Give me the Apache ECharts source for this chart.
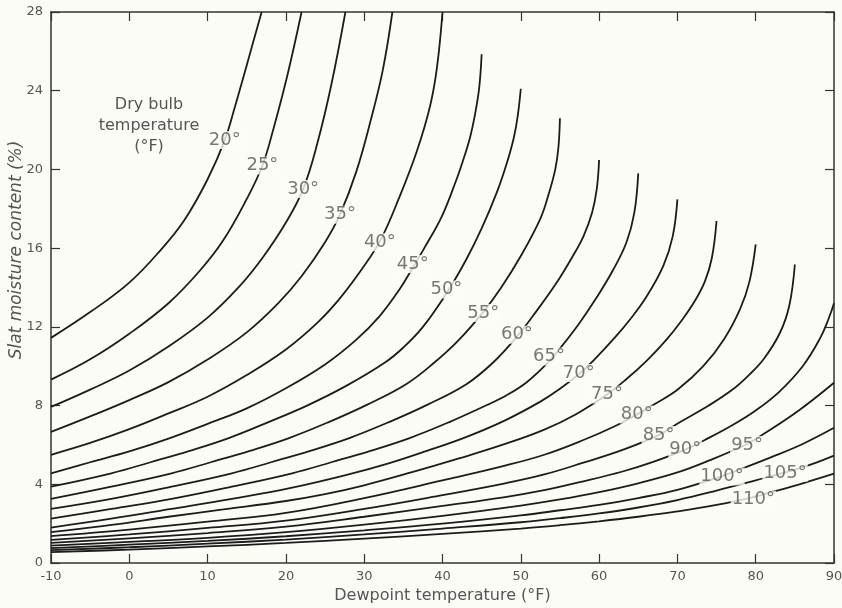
<!DOCTYPE html>
<html><head><meta charset="utf-8">
<script src="https://cdn.jsdelivr.net/npm/echarts/dist/echarts.min.js"></script>
<style>html,body{margin:0;padding:0;background:#fcfcf7}#c{width:842px;height:608px}</style>
</head><body><div id="c"></div>
<script>
// Dry bulb temperatures (°F), one curve each
const dryBulb = [20,25,30,35,40,45,50,55,60,65,70,75,80,85,90,95,100,105,110];

// Curves: [dewpoint °F, slat moisture content %]
const c20 = [[-10,11.44],[-5,12.75],[0,14.25],[4,15.9],[7,17.4],[10,19.5],[12.2,21.5],[13.5,23.2],[15,25.3],[16.9,28]];
const c25 = [[-10,9.32],[-5,10.35],[0,11.65],[5,13.2],[9,14.85],[12,16.4],[15,18.5],[17,20.2],[18.5,22.2],[20.2,24.8],[22,28]];
const c30 = [[-10,7.93],[-5,8.81],[0,9.78],[5,11.0],[10,12.47],[14,14.03],[17,15.5],[20,17.3],[22.2,19.0],[24,21.3],[25.8,24.3],[27.6,28]];
const c35 = [[-10,6.66],[-5,7.45],[0,8.28],[5,9.19],[10,10.34],[15,11.72],[19,13.19],[22,14.57],[25,16.3],[26.9,17.7],[29,19.9],[30.9,22.6],[32.4,25.1],[33.6,28]];
const c40 = [[-10,5.5],[-5,6.1],[0,6.8],[5,7.6],[10,8.45],[15,9.55],[20,10.85],[24,12.2],[27,13.5],[30,15.1],[32.2,16.5],[34.4,18.5],[36.7,20.9],[38.4,23.2],[39.3,25.2],[40,28]];
const c45 = [[-10,4.56],[-5,5.12],[0,5.67],[5,6.32],[10,7.07],[15,7.86],[20,8.88],[25,10.09],[29,11.35],[32,12.56],[34.5,13.9],[36.2,15.0],[37.6,15.95],[39.9,17.6],[41.8,19.5],[42.5,20.3],[43.5,21.6],[44.2,22.9],[44.7,24.2],[45,25.85]];
const c50 = [[-10,3.88],[-2.3,4.56],[2.7,5.12],[7.7,5.7],[12.7,6.35],[17.7,7.15],[22.7,8.0],[27.7,9.0],[32.7,10.2],[35,10.95],[37.5,12.0],[40.5,13.7],[43,15.4],[45,17.0],[47,18.9],[48.2,20.3],[49.1,21.6],[49.6,22.7],[50,24.1]];
const c55 = [[-10,3.26],[-2.3,3.88],[5.4,4.56],[10.4,5.12],[15.4,5.7],[20.4,6.35],[25.4,7.15],[30.4,8.05],[35.4,9.1],[39,10.2],[42,11.3],[45.2,12.75],[47.5,14.0],[50,15.6],[52.5,17.5],[53.6,18.8],[54.4,20.0],[54.8,21.1],[55,22.6]];
const c60 = [[-10,2.75],[-2.3,3.26],[5.4,3.88],[13.1,4.56],[18.1,5.12],[23.1,5.7],[28.1,6.35],[33.1,7.15],[38.1,8.05],[43.1,9.1],[46.5,10.2],[49.5,11.5],[52,12.8],[54.5,14.2],[56.5,15.5],[58,16.6],[59.1,17.8],[59.7,19.0],[60,20.48]];
const c65 = [[-10,2.25],[-2.3,2.75],[5.4,3.26],[13.1,3.88],[20.8,4.56],[25.8,5.12],[30.8,5.7],[35.8,6.35],[40.8,7.15],[45.8,8.05],[48.3,8.55],[50.8,9.2],[53.5,10.2],[55,10.9],[57.5,12.2],[59.7,13.5],[61.8,14.9],[63.5,16.3],[64.5,17.8],[65,19.8]];
const c70 = [[-10,1.8],[-2.3,2.25],[5.4,2.75],[13.1,3.26],[20.5,3.8],[28,4.5],[33,5.05],[38,5.7],[43,6.4],[48,7.25],[52.5,8.2],[55,8.85],[57.4,9.6],[59.3,10.3],[62,11.45],[64,12.4],[66,13.5],[68.2,15.1],[69.4,16.6],[70,18.48]];
const c75 = [[-10,1.57],[-2,1.95],[5,2.35],[12,2.72],[20,3.15],[25,3.5],[30,3.95],[36,4.6],[42,5.3],[48,6.05],[53,6.78],[57,7.55],[61,8.56],[63.5,9.35],[66,10.25],[68.5,11.3],[70.5,12.3],[72.2,13.3],[73.5,14.3],[74.4,15.5],[75,17.38]];
const c80 = [[-10,1.37],[0,1.7],[10,2.1],[20,2.55],[30,3.3],[40,4.2],[48,4.95],[53,5.5],[58,6.25],[62,6.95],[64.8,7.54],[67,8.05],[70,8.8],[73.3,10.0],[76,11.4],[78,12.9],[79.2,14.3],[80,16.19]];
const c85 = [[-10,1.18],[0,1.45],[10,1.78],[20,2.15],[30,2.75],[40,3.45],[48,4.05],[53,4.5],[58,5.1],[63,5.75],[67.6,6.5],[70.3,7.15],[74,8.0],[77,8.8],[79,9.5],[81,10.35],[83.1,11.7],[84.3,13.1],[85,15.17]];
const c90 = [[-10,1.02],[0,1.25],[10,1.52],[20,1.85],[30,2.35],[40,2.9],[48,3.35],[53,3.7],[58,4.15],[63,4.65],[67,5.15],[71,5.76],[73.5,6.25],[77,7.0],[80,7.75],[83,8.7],[86,10.0],[88.2,11.4],[89.3,12.4],[90,13.2]];
const c95 = [[-10,0.88],[0,1.07],[10,1.28],[20,1.57],[30,1.95],[40,2.4],[50,2.92],[55,3.23],[60,3.6],[65,4.05],[70,4.6],[74,5.2],[78.9,6.05],[81,6.55],[85.5,7.75],[90,9.16]];
const c100 = [[-10,0.76],[0,0.93],[10,1.12],[20,1.36],[30,1.66],[40,2.0],[50,2.42],[55,2.68],[60,2.95],[65,3.3],[70,3.72],[75.7,4.42],[78.4,4.82],[82,5.38],[86,6.05],[90,6.87]];
const c105 = [[-10,0.65],[0,0.8],[10,0.98],[20,1.19],[30,1.45],[40,1.75],[50,2.07],[55,2.28],[60,2.52],[65,2.82],[70,3.2],[75,3.68],[80,4.2],[83.75,4.6],[87,5.0],[90,5.46]];
const c110 = [[-10,0.55],[0,0.68],[10,0.84],[20,1.02],[30,1.24],[40,1.48],[50,1.75],[55,1.92],[60,2.12],[65,2.35],[70,2.62],[75,2.95],[79.7,3.35],[82,3.6],[86,4.05],[90,4.54]];

const curves = [c20,c25,c30,c35,c40,c45,c50,c55,c60,c65,c70,c75,c80,c85,c90,c95,c100,c105,c110];

// Where each curve's temperature label sits (dewpoint, moisture)
const labelAt = [[12.2,21.5],[17.0,20.2],[22.2,19.0],[26.9,17.7],[32.0,16.3],[36.2,15.2],[40.5,13.9],[45.2,12.7],[49.5,11.6],[53.6,10.5],[57.4,9.65],[61.0,8.56],[64.8,7.54],[67.6,6.5],[71.0,5.76],[78.9,6.0],[75.7,4.4],[83.75,4.58],[79.7,3.22]];

// Axis ticks
const xMin = -10, xMax = 90, xStep = 10;
const yMin = 0, yMax = 28, yStep = 4;

const FONT = 'DejaVu Sans';
const INK = '#1c1c1c';
const TXT = '#555';
const BG = '#fcfcf7';

const chart = echarts.init(document.getElementById('c'), null, {renderer:'canvas'});

const series = curves.map((c, i) => ({
  type: 'line', name: dryBulb[i] + '°', data: c,
  showSymbol: false, smooth: 0.4,
  lineStyle: {color: INK, width: 1.8}, silent: true, z: 2
}));
series.push({
  type: 'scatter', symbolSize: 0, z: 10, silent: true,
  data: labelAt.map((p, i) => ({value: p, name: dryBulb[i] + '°'})),
  label: {
    show: true, position: 'inside', formatter: p => p.name,
    color: TXT, fontFamily: FONT, fontSize: 18,
    backgroundColor: BG, padding: [0, 1]
  }
});

const axisLine = {show: true, onZero: false, lineStyle: {color: '#333', width: 1.5}};
const tick = {inside: true, length: 9, lineStyle: {color: '#333', width: 1.2}};
chart.setOption({
  backgroundColor: BG,
  animation: false,
  grid: {left: 51, right: 8, top: 12, bottom: 45, containLabel: false, outerBoundsMode: 'none'},
  xAxis: [{
    type: 'value', min: xMin, max: xMax, interval: xStep, position: 'bottom',
    axisLine, axisTick: tick,
    axisLabel: {color: TXT, fontFamily: FONT, fontSize: 13, margin: 7},
    splitLine: {show: false},
    name: 'Dewpoint temperature (°F)', nameLocation: 'middle', nameGap: 15,
    nameTextStyle: {color: TXT, fontFamily: FONT, fontSize: 16}
  }, {
    type: 'value', min: xMin, max: xMax, interval: xStep, position: 'top',
    axisLine, axisTick: tick,
    axisLabel: {show: false}, splitLine: {show: false}
  }],
  yAxis: [{
    type: 'value', min: yMin, max: yMax, interval: yStep, position: 'left',
    axisLine, axisTick: tick,
    axisLabel: {color: TXT, fontFamily: FONT, fontSize: 13, margin: 8},
    splitLine: {show: false}
  }, {
    type: 'value', min: yMin, max: yMax, interval: yStep, position: 'right',
    axisLine, axisTick: tick,
    axisLabel: {show: false}, splitLine: {show: false}
  }],
  graphic: [{
    type: 'text', x: 149, y: 94,
    style: {text: 'Dry bulb\ntemperature\n(°F)', align: 'center', textAlign: 'center', fill: TXT,
            font: '16px "DejaVu Sans"', lineHeight: 21}
  }, {
    type: 'text', x: 17, y: 250, rotation: Math.PI / 2,
    style: {text: 'Slat moisture content (%)', align: 'center', verticalAlign: 'middle',
            textAlign: 'center', textVerticalAlign: 'middle', fill: TXT,
            font: 'italic 17px "DejaVu Sans"'}
  }],
  series
});
</script>
</body></html>
